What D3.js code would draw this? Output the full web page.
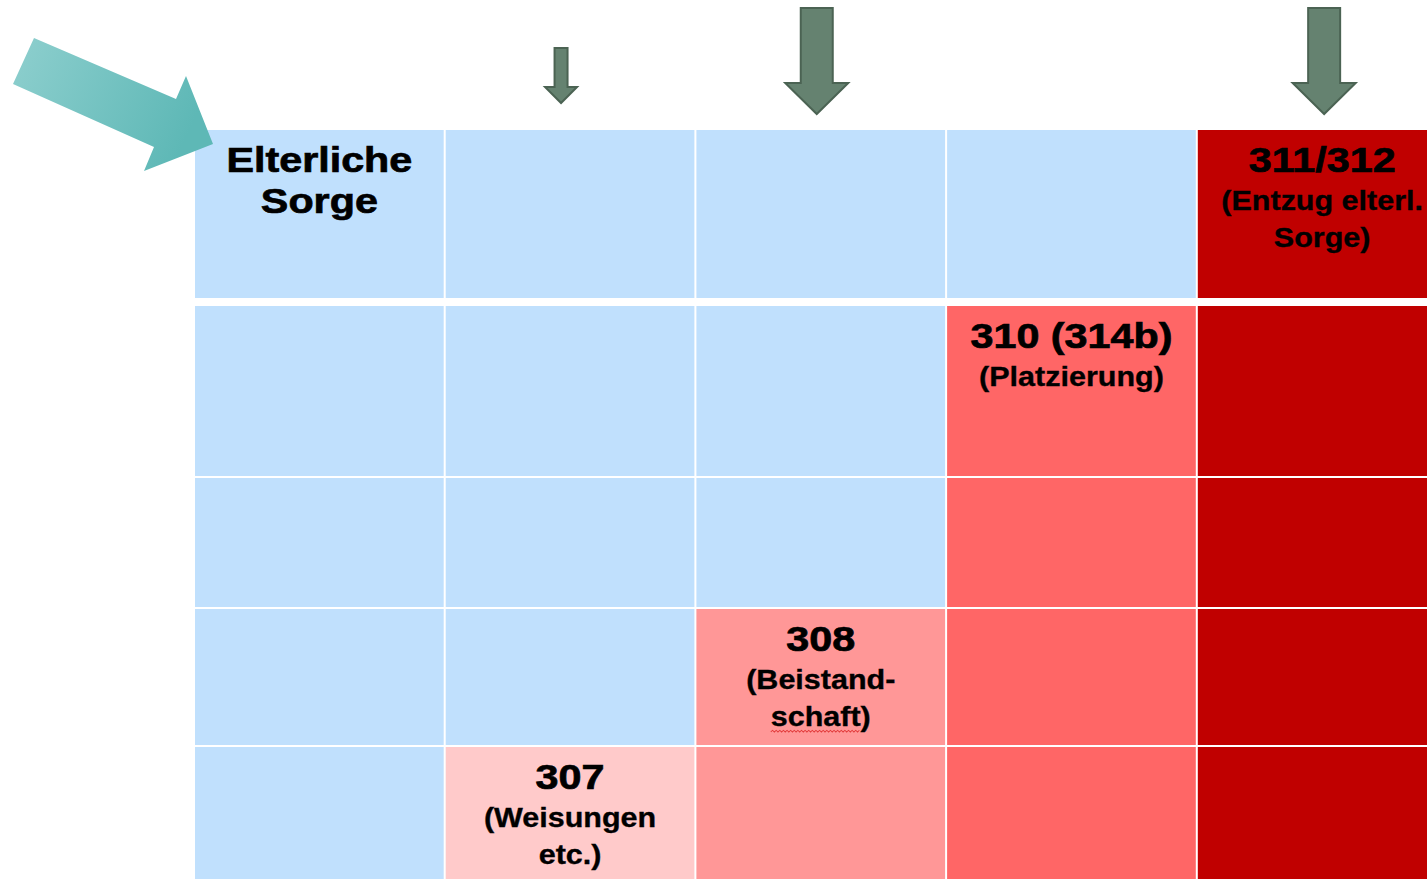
<!DOCTYPE html>
<html><head><meta charset="utf-8">
<script src="https://cdn.jsdelivr.net/npm/d3@7"></script>
<style>html,body{margin:0;padding:0;background:#fff;overflow:hidden}</style>
</head><body><svg id="c" width="1427" height="879"></svg>
<script>
// ---- data ----
const columns = [0, 1, 2, 3, 4];
const rows = [0, 1, 2, 3, 4];
const levels = [
  [0, 0, 0, 0, 4],
  [0, 0, 0, 3, 4],
  [0, 0, 0, 3, 4],
  [0, 0, 2, 3, 4],
  [0, 1, 2, 3, 4]
];
const levelColors = ["#c0e0fd", "#ffcaca", "#ff9797", "#ff6666", "#c00000"];
const cellLabels = [
  {row: 0, col: 0, title: ["Elterliche", "Sorge"], sub: []},
  {row: 0, col: 4, title: ["311/312"], sub: ["(Entzug elterl.", "Sorge)"]},
  {row: 1, col: 3, title: ["310 (314b)"], sub: ["(Platzierung)"]},
  {row: 3, col: 2, title: ["308"], sub: ["(Beistand-", "schaft)"], spell: "schaft"},
  {row: 4, col: 1, title: ["307"], sub: ["(Weisungen", "etc.)"]}
];
const downArrows = [
  {col: 1, size: "small"},
  {col: 2, size: "large"},
  {col: 4, size: "large"}
];

// ---- layout ----
const rowTops = [130, 306, 478, 609, 747];
const rowHeights = [168, 170, 129, 136, 140];
const arrowShift = {1: -9, 2: -4, 4: 2};
const arrowGeom = {
  small: {top: 48, head: 87, tip: 103, shaft: 6.5, wing: 16},
  large: {top: 8, head: 83, tip: 114, shaft: 16, wing: 31.5}
};

const svg = d3.select("#c");
const x = d3.scaleBand().domain(columns).range([195, 1446.5]).paddingInner(0.008).paddingOuter(0);
const yTop = d3.scaleOrdinal().domain(rows).range(rowTops);
const yH = d3.scaleOrdinal().domain(rows).range(rowHeights);
const color = d3.scaleOrdinal().domain(d3.range(levelColors.length)).range(levelColors);

const cells = [];
rows.forEach(r => columns.forEach(c => cells.push({row: r, col: c, level: levels[r][c]})));

svg.append("g").selectAll("rect").data(cells).join("rect")
  .attr("x", d => x(d.col))
  .attr("y", d => yTop(d.row))
  .attr("width", x.bandwidth())
  .attr("height", d => yH(d.row))
  .attr("fill", d => color(d.level));

// labels
const font = "'Liberation Sans', Arial, sans-serif";
const titleSize = 35, subSize = 27, titleStretch = 1.18, subStretch = 1.13;
const lg = svg.append("g");
cellLabels.forEach(d => {
  const cx = x(d.col) + x.bandwidth() / 2;
  const top = yTop(d.row);
  d.title.forEach((t, i) => {
    lg.append("g").attr("transform", `translate(${cx},${top + 42 + i * 41}) scale(${titleStretch},1)`)
      .append("text").attr("text-anchor", "middle")
      .attr("font-family", font).attr("font-weight", "bold").attr("font-size", titleSize)
      .attr("fill", "#000").attr("stroke", "#000").attr("stroke-width", 0.7).text(t);
  });
  d.sub.forEach((t, i) => {
    const by = top + 42 + 38 + i * 37;
    const g = lg.append("g").attr("transform", `translate(${cx},${by}) scale(${subStretch},1)`);
    const txt = g.append("text").attr("text-anchor", "middle")
      .attr("font-family", font).attr("font-weight", "bold").attr("font-size", subSize)
      .attr("fill", "#000").attr("stroke", "#000").attr("stroke-width", 0.35).text(t);
    if (d.spell && t.startsWith(d.spell)) {
      const full = txt.node().getComputedTextLength();
      const tmp = g.append("text").attr("font-family", font).attr("font-weight", "bold")
        .attr("font-size", subSize).text(d.spell);
      const w = tmp.node().getComputedTextLength();
      tmp.remove();
      const x0 = -full / 2, x1 = -full / 2 + w;
      let p = `M${x0},${6}`;
      let k = 0;
      for (let xx = x0 + 1.6; xx <= x1; xx += 1.6) { k++; p += `L${xx},${k % 2 ? 4.3 : 6}`; }
      g.append("path").attr("d", p).attr("fill", "none").attr("stroke", "#e23a3a").attr("stroke-width", 0.9);
    }
  });
});

// green down arrows
const ag = svg.append("g");
downArrows.forEach(a => {
  const g = arrowGeom[a.size];
  const cx = x(a.col) + x.bandwidth() / 2 + arrowShift[a.col];
  const pts = [
    [cx - g.shaft, g.top], [cx + g.shaft, g.top], [cx + g.shaft, g.head], [cx + g.wing, g.head],
    [cx, g.tip], [cx - g.wing, g.head], [cx - g.shaft, g.head]
  ];
  ag.append("polygon").attr("points", pts.map(p => p.join(",")).join(" "))
    .attr("fill", "#658270").attr("stroke", "#4b6353").attr("stroke-width", 2).attr("stroke-linejoin", "miter");
});

// teal pointer arrow toward first cell
const defs = svg.append("defs");
const grad = defs.append("linearGradient").attr("id", "teal").attr("x1", "0%").attr("y1", "0%").attr("x2", "100%").attr("y2", "30%");
grad.append("stop").attr("offset", "0%").attr("stop-color", "#8ecfce");
grad.append("stop").attr("offset", "100%").attr("stop-color", "#5eb8b6");
const gx = x(0), gy = yTop(0);
const teal = [[-182, -46], [-161, -92], [-19, -31], [-9, -54], [18, 14], [-51, 41], [-41, 17]];
svg.append("polygon").attr("points", teal.map(p => [gx + p[0], gy + p[1]].join(",")).join(" "))
  .attr("fill", "url(#teal)");
</script>
</body></html>
